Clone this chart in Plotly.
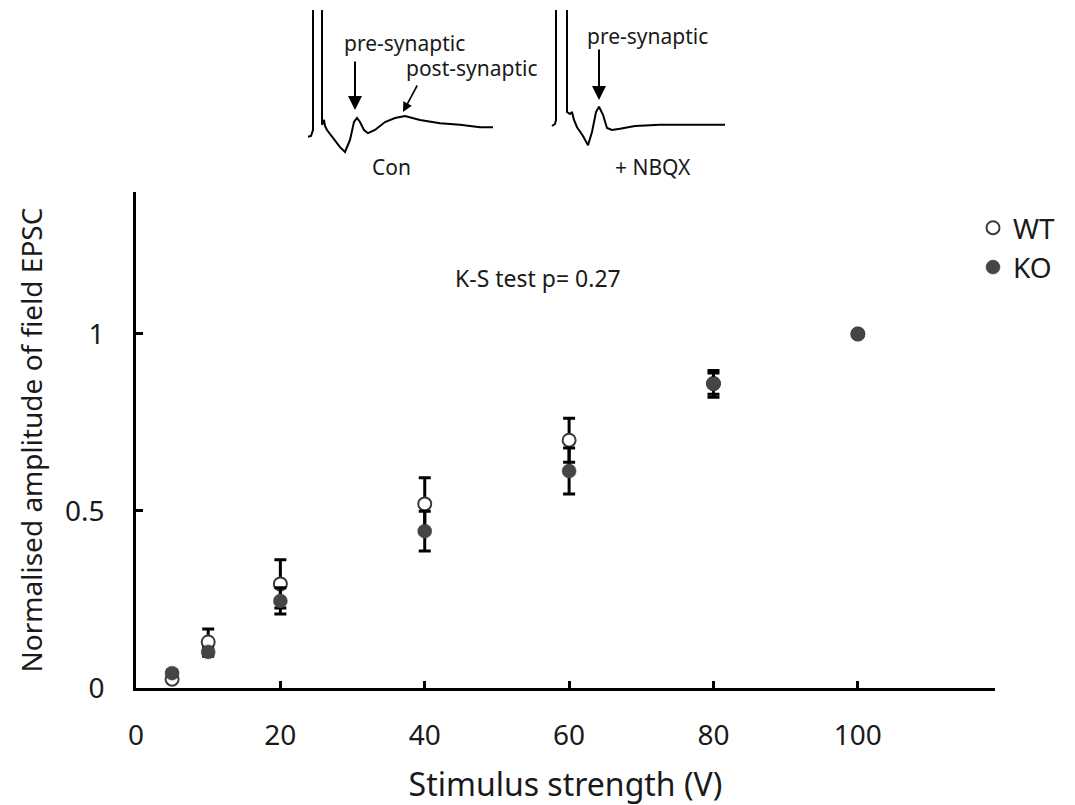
import plotly.graph_objects as go

# ---- main data ----
stim_v = [5, 10, 20, 40, 60, 80, 100]
wt_mean = [0.025, 0.13, 0.294, 0.52, 0.70, 0.86, 1.0]
wt_err = [0.008, 0.037, 0.068, 0.074, 0.062, 0.03, 0.0]
ko_mean = [0.042, 0.102, 0.246, 0.443, 0.613, 0.859, 1.0]
ko_err = [0.008, 0.012, 0.037, 0.056, 0.065, 0.038, 0.0]

x_ticks = [0, 20, 40, 60, 80, 100]
y_ticks = [0, 0.5, 1]
y_tick_text = ["0", "0.5", "1"]

# ---- inset example traces (time, ms-like units; amplitude, arbitrary) ----
con_t = [0.8, 1.1, 1.3, 1.3, 2.2, 2.2, 2.4, 2.5, 2.7, 3.3, 4.0, 4.5, 5.0, 5.4, 5.7,
         6.0, 6.4, 6.8, 7.5, 8.5, 9.5, 10.5, 12.0, 14.0, 16.0, 18.0, 19.3]
con_v = [-0.42, -0.40, -0.25, 4.0, 4.0, -0.12, 0.0, -0.15, -0.25, -0.45, -0.68, -0.80, -0.50, -0.05, 0.05,
         -0.05, -0.25, -0.33, -0.25, -0.05, 0.05, 0.10, 0.0, -0.08, -0.12, -0.18, -0.18]
nbqx_t = [1.2, 1.5, 1.6, 1.6, 2.7, 2.7, 3.0, 3.2, 3.4, 3.7, 4.3, 4.8, 5.2, 5.6, 5.9,
          6.3, 6.7, 7.2, 8.0, 9.5, 12.0, 15.0, 18.5]
nbqx_v = [-0.15, -0.10, 0.0, 4.0, 4.0, 0.2, 0.15, 0.2, 0.0, -0.18, -0.40, -0.63, -0.30, 0.20, 0.33,
          0.13, -0.20, -0.25, -0.22, -0.15, -0.12, -0.12, -0.12]

FONT = "Noto Sans, Open Sans, DejaVu Sans, sans-serif"
TXT = "#1a1a1a"

fig = go.Figure()

fig.add_trace(go.Scatter(
    x=stim_v, y=wt_mean, mode="markers", name="WT",
    marker=dict(symbol="circle", size=13, color="white",
                line=dict(color="#3a3a3a", width=2)),
    error_y=dict(type="data", array=wt_err, visible=True, color="black",
                 thickness=3, width=6),
    cliponaxis=False,
))
fig.add_trace(go.Scatter(
    x=stim_v, y=ko_mean, mode="markers", name="KO",
    marker=dict(symbol="circle", size=14, color="#454545",
                line=dict(color="#454545", width=0.5)),
    error_y=dict(type="data", array=ko_err, visible=True, color="black",
                 thickness=3, width=6),
    cliponaxis=False,
))

# inset traces
fig.add_trace(go.Scatter(x=con_t, y=con_v, mode="lines", xaxis="x2", yaxis="y2",
                         line=dict(color="black", width=2), showlegend=False,
                         hoverinfo="skip"))
fig.add_trace(go.Scatter(x=nbqx_t, y=nbqx_v, mode="lines", xaxis="x3", yaxis="y3",
                         line=dict(color="black", width=2), showlegend=False,
                         hoverinfo="skip"))

W, H = 1075, 805
def px_x(p):
    return p / W
def px_y(p):
    return (H - p) / H

inset_axis = dict(visible=False, fixedrange=True)

fig.update_layout(
    width=W, height=H,
    margin=dict(l=0, r=0, t=0, b=0, pad=0, autoexpand=False),
    paper_bgcolor="white", plot_bgcolor="white",
    font=dict(family=FONT, color=TXT),
    xaxis=dict(
        domain=[px_x(136), px_x(995)], range=[0, 119],
        showline=True, linecolor="black", linewidth=2.5,
        ticks="inside", ticklen=7, tickwidth=2.5, tickcolor="black",
        tickvals=x_ticks, ticktext=[str(v) for v in x_ticks],
        tickfont=dict(size=28, color=TXT), ticklabelstandoff=21,
        showgrid=False, zeroline=False, automargin=False,
        title=dict(text="Stimulus strength (V)", font=dict(size=32, color=TXT), standoff=25),
    ),
    yaxis=dict(
        domain=[px_y(688), px_y(192)], range=[0, 1.401],
        showline=True, linecolor="black", linewidth=2.5,
        ticks="inside", ticklen=7, tickwidth=2.5, tickcolor="black",
        tickvals=y_ticks, ticktext=y_tick_text,
        tickfont=dict(size=28, color=TXT), ticklabelstandoff=23,
        showgrid=False, zeroline=False, automargin=False,
        title=dict(text="Normalised amplitude of field EPSC", font=dict(size=28, color=TXT), standoff=15),
    ),
    xaxis2=dict(domain=[px_x(300), px_x(500)], range=[0, 20], anchor="y2", **inset_axis),
    yaxis2=dict(domain=[px_y(160), px_y(10)], range=[-1.0, 2.75], anchor="x2", **inset_axis),
    xaxis3=dict(domain=[px_x(540), px_x(740)], range=[0, 20], anchor="y3", **inset_axis),
    yaxis3=dict(domain=[px_y(160), px_y(10)], range=[-1.0, 2.75], anchor="x3", **inset_axis),
    legend=dict(x=px_x(973), y=px_y(203), xanchor="left", yanchor="top",
                font=dict(size=28, color=TXT), bgcolor="rgba(0,0,0,0)",
                itemsizing="trace", tracegroupgap=4),
    showlegend=True,
)

inset_font = dict(size=21, color=TXT)
annots = [
    dict(x=55.7, y=1.158, xref="x", yref="y", text="K-S test p= 0.27",
         showarrow=False, font=dict(size=23, color=TXT)),
    # inset labels
    dict(x=10.4, y=1.93, xref="x2", yref="y2", text="pre-synaptic",
         xanchor="center", yanchor="middle", showarrow=False, font=inset_font),
    dict(x=17.2, y=1.30, xref="x2", yref="y2", text="post-synaptic",
         xanchor="center", yanchor="middle", showarrow=False, font=inset_font),
    dict(x=10.7, y=2.1, xref="x3", yref="y3", text="pre-synaptic",
         xanchor="center", yanchor="middle", showarrow=False, font=inset_font),
    dict(x=px_x(391), y=px_y(167), xref="paper", yref="paper", text="Con",
         xanchor="center", yanchor="middle", showarrow=False, font=dict(size=21, color=TXT)),
    dict(x=px_x(653), y=px_y(167), xref="paper", yref="paper", text="+ NBQX",
         xanchor="center", yanchor="middle", showarrow=False, font=dict(size=21, color=TXT)),
    # arrows
    dict(x=5.5, y=0.25, xref="x2", yref="y2", ax=5.5, ay=1.5, axref="x2", ayref="y2",
         text="", showarrow=True, arrowhead=2, arrowsize=1.4, arrowwidth=2, arrowcolor="black"),
    dict(x=10.3, y=0.2, xref="x2", yref="y2", ax=11.8, ay=0.9, axref="x2", ayref="y2",
         text="", showarrow=True, arrowhead=2, arrowsize=1.2, arrowwidth=1.6, arrowcolor="black"),
    dict(x=5.9, y=0.5, xref="x3", yref="y3", ax=5.9, ay=1.8, axref="x3", ayref="y3",
         text="", showarrow=True, arrowhead=2, arrowsize=1.4, arrowwidth=2, arrowcolor="black"),
]
fig.update_layout(annotations=annots)

fig.write_html("out.html",
               config={"displayModeBar": False},
               post_script="document.body.style.margin='0px';document.body.style.padding='0px';")
